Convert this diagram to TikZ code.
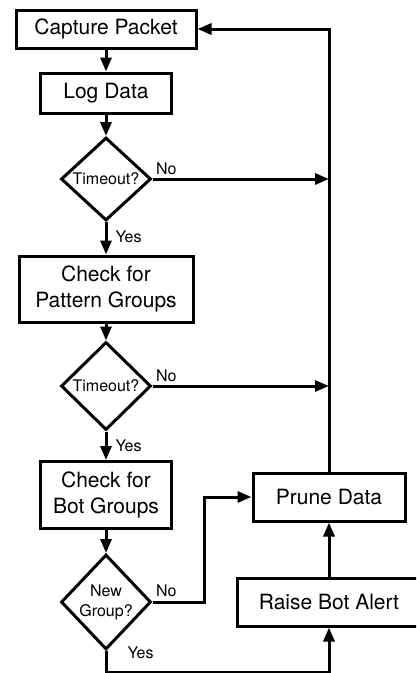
\documentclass[tikz,border=0pt]{standalone}
\usepackage{fontspec}
\setmainfont{TeX Gyre Heros}
\usetikzlibrary{arrows.meta,shapes.geometric}

\begin{document}
\begin{tikzpicture}[
      x=1pt, y=-1pt,
      stepbox/.style={rectangle, draw, line width=3pt, inner sep=0pt, align=center,
                      font=\fontsize{21}{26}\selectfont},
      decision/.style={diamond, draw, line width=3pt, inner sep=0pt, aspect=1,
                       minimum width=90pt, align=center, font=\fontsize{16}{20}\selectfont},
      flow/.style={-{Triangle[length=14pt,width=11pt]}, line width=3pt},
      link/.style={line width=3pt},
      tag/.style={font=\fontsize{16}{20}\selectfont, inner sep=0pt}]
    \useasboundingbox (0,0) rectangle (416,673);
    \clip (0,0) rectangle (416,673);
    % left column
    \node[stepbox, minimum width=180pt, minimum height=38pt] (capture) at (106,29) {Capture Packet};
    \node[stepbox, minimum width=131pt, minimum height=40pt] (logdata) at (106,93) {Log Data};
    \node[decision, minimum height=83pt] (d1) at (106,179) {Timeout?};
    \node[stepbox, minimum width=174pt, minimum height=66pt] (pattern) at (106,289) {Check for\\Pattern Groups};
    \node[decision, minimum height=88pt] (d2) at (106,386) {Timeout?};
    \node[stepbox, minimum width=131pt, minimum height=67pt] (botgroups) at (106,495) {Check for\\Bot Groups};
    \node[decision, minimum height=95pt] (d3) at (106,602) {New\\Group?};
    % right column
    \node[stepbox, minimum width=152pt, minimum height=48pt] (prune) at (329,497) {Prune Data};
    \node[stepbox, minimum width=184pt, minimum height=48pt] (alert) at (329,602) {Raise Bot Alert};
    \coordinate (join1) at (prune.north |- d1.east);
    \coordinate (join2) at (prune.north |- d2.east);
    % plain steps
    \foreach \u/\v in {capture/logdata, logdata/d1, pattern/d2, botgroups/d3}{
      \draw[flow] (\u.south) -- (\v.north);
    }
    % decisions
    \draw[flow] (d1.south) -- node[tag, pos=0, anchor=north west, xshift=8pt, yshift=-7pt] (yes1) {Yes} (pattern.north);
    \draw[flow] (d2.south) -- node[tag, pos=0, anchor=north west, xshift=8pt, yshift=-7pt] (yes2) {Yes} (botgroups.north);
    \draw[flow] (d1.east) -- node[tag, pos=0, anchor=south west, xshift=2pt, yshift=3pt] (no1) {No} (join1);
    \draw[flow] (d2.east) -- node[tag, pos=0, anchor=south west, xshift=2pt, yshift=3pt] (no2) {No} (join2);
    \draw[flow] (d3.east) -- node[tag, pos=0, anchor=south west, xshift=2pt, yshift=4pt] (no3) {No} ++(52,0) |- (prune.west);
    \draw[flow] (d3.south) -- node[tag, pos=0, anchor=west, xshift=20pt, yshift=-2pt] (yes3) {Yes} ++(0,21) -| (alert.south);
    % back to the start
    \draw[flow] (alert.north) -- (prune.south);
    \draw[flow] (prune.north) |- (capture.east);
  \end{tikzpicture}
\end{document}
